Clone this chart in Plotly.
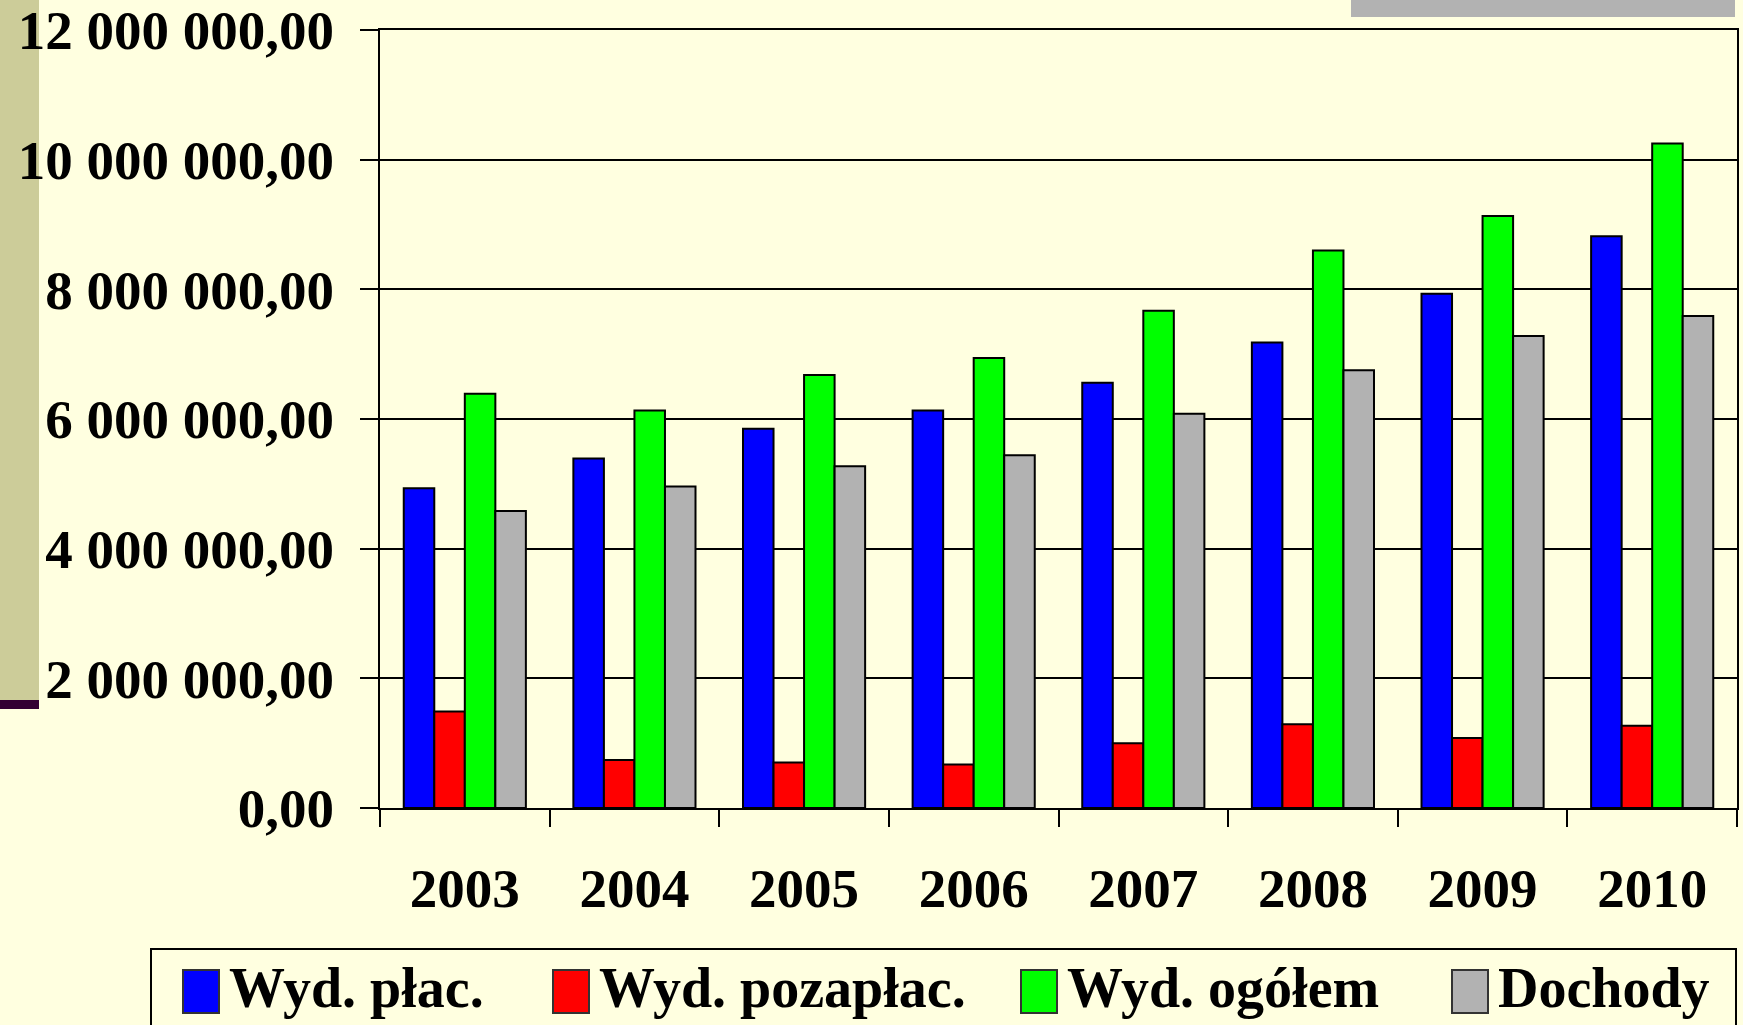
import plotly.graph_objects as go

years = ["2003", "2004", "2005", "2006", "2007", "2008", "2009", "2010"]
series_names = ["Wyd. płac.", "Wyd. pozapłac.", "Wyd. ogółem", "Dochody"]
wyd_plac = [4.93e6, 5.39e6, 5.85e6, 6.13e6, 6.56e6, 7.18e6, 7.93e6, 8.82e6]
wyd_pozaplac = [1.49e6, 0.74e6, 0.70e6, 0.67e6, 1.00e6, 1.29e6, 1.08e6, 1.27e6]
wyd_ogolem = [6.39e6, 6.13e6, 6.68e6, 6.94e6, 7.67e6, 8.60e6, 9.13e6, 10.25e6]
dochody = [4.58e6, 4.96e6, 5.27e6, 5.44e6, 6.08e6, 6.75e6, 7.28e6, 7.59e6]
colors = ["#0000FF", "#FF0000", "#00FF00", "#B2B2B2"]

W, H = 1743, 1025
L, R, T, B = 380, 6, 30, 217
PW, PH = W - L - R, H - T - B
BG = "#FFFFE0"
FONT = "Liberation Serif, Times New Roman, serif"


def px(x):
    return (x - L) / PW


def py(y):
    return (H - B - y) / PH


fig = go.Figure()
for name, vals, col in zip(series_names, [wyd_plac, wyd_pozaplac, wyd_ogolem, dochody], colors):
    fig.add_trace(go.Bar(x=years, y=vals, name=name, marker=dict(color=col, line=dict(color="black", width=2)),
                         showlegend=False))

shapes = [
    dict(type="rect", xref="paper", yref="paper", x0=px(0), x1=px(39), y0=py(0), y1=py(700),
         fillcolor="#CCCC99", line=dict(width=0), layer="below"),
    dict(type="rect", xref="paper", yref="paper", x0=px(0), x1=px(39), y0=py(700), y1=py(709),
         fillcolor="#330033", line=dict(width=0), layer="below"),
    dict(type="rect", xref="paper", yref="paper", x0=px(1351), x1=px(1735), y0=py(0), y1=py(17),
         fillcolor="#B2B2B2", line=dict(width=0), layer="below"),
    dict(type="rect", xref="paper", yref="paper", x0=px(151), x1=px(1736), y0=py(949), y1=py(1040),
         fillcolor=BG, line=dict(color="black", width=2)),
]
annotations = []
leg_sq = [183, 553, 1021, 1452]
for name, col, x0 in zip(series_names, colors, leg_sq):
    shapes.append(dict(type="rect", xref="paper", yref="paper", x0=px(x0), x1=px(x0 + 36),
                       y0=py(970), y1=py(1013), fillcolor=col, line=dict(color="#333333", width=2)))
    annotations.append(dict(xref="paper", yref="paper", x=px(x0 + 44), y=py(988), text=name,
                            showarrow=False, xanchor="left", yanchor="middle",
                            font=dict(family=FONT, size=56, color="black", weight="bold")))

fig.update_layout(
    width=W, height=H,
    margin=dict(l=L, r=R, t=T, b=B, autoexpand=False),
    paper_bgcolor=BG, plot_bgcolor=BG,
    barmode="group", bargap=0.28, bargroupgap=0,
    separators=", ",
    font=dict(family=FONT, size=55, color="black", weight="bold"),
    shapes=shapes, annotations=annotations,
    xaxis=dict(showline=True, linecolor="black", linewidth=2, mirror=True,
               ticks="outside", tickson="boundaries", ticklen=17, tickwidth=2, tickcolor="black",
               tickfont=dict(family=FONT, size=55, color="black", weight="bold"), ticklabelstandoff=31,
               showgrid=False),
    yaxis=dict(range=[0, 12e6], tickvals=[0, 2e6, 4e6, 6e6, 8e6, 10e6, 12e6], tickformat=",.2f",
               showline=True, linecolor="black", linewidth=2, mirror=True,
               ticks="outside", ticklen=18, tickwidth=2, tickcolor="black",
               tickfont=dict(family=FONT, size=55, color="black", weight="bold"), ticklabelstandoff=15,
               showgrid=True, gridcolor="black", gridwidth=2, zeroline=False),
)

fig.write_html("out.html", config={"displayModeBar": False},
               post_script="document.body.style.margin='0';document.body.style.background='%s';" % BG)
